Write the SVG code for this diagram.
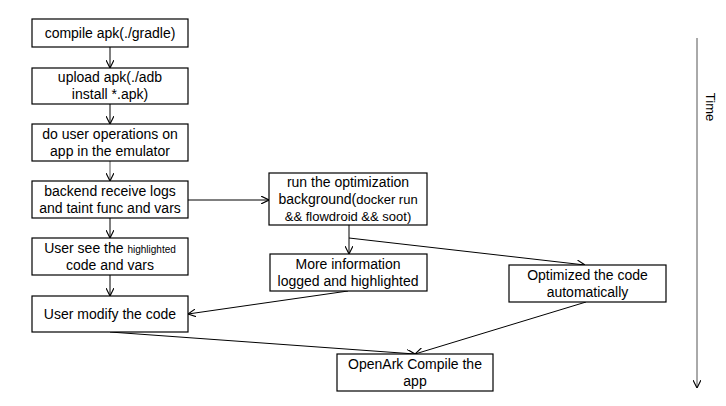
<svg xmlns="http://www.w3.org/2000/svg" width="726" height="406" viewBox="0 0 726 406">
<defs>
<style>
.box{fill:#fff;stroke:#000;stroke-width:1.2}
.t{font-family:"Liberation Sans",Arial,sans-serif;font-size:14px;fill:#000;text-anchor:middle}
.c{fill:none;stroke:#000;stroke-width:1}
.g{stroke:#555}
.s{font-size:10px}
.m{font-size:13px}
</style>
<marker id="ah" viewBox="0 0 10 10" refX="10" refY="5" markerWidth="8" markerHeight="8" markerUnits="userSpaceOnUse" orient="auto">
<path d="M0,0 L10,5 L0,10" fill="none" stroke="#000" stroke-width="1.4"/>
</marker>
</defs>
<rect width="726" height="406" fill="#fff"/>
<g id="connectors">
<line class="c" x1="110" y1="47" x2="110" y2="68" marker-end="url(#ah)"/>
<line class="c" x1="110" y1="104" x2="110" y2="124" marker-end="url(#ah)"/>
<line class="c g" x1="110" y1="161" x2="110" y2="181" marker-end="url(#ah)"/>
<line class="c" x1="110" y1="218" x2="110" y2="238" marker-end="url(#ah)"/>
<line class="c" x1="110" y1="275" x2="110" y2="296" marker-end="url(#ah)"/>
<line class="c" x1="188" y1="200" x2="269" y2="200" marker-end="url(#ah)"/>
<line class="c" x1="349" y1="225" x2="349" y2="254" marker-end="url(#ah)"/>
<line class="c" x1="349" y1="238" x2="585" y2="265" marker-end="url(#ah)"/>
<line class="c" x1="348" y1="291" x2="188" y2="314" marker-end="url(#ah)"/>
<line class="c" x1="586" y1="302" x2="415" y2="354" marker-end="url(#ah)"/>
<line class="c" x1="110" y1="332" x2="415" y2="354" marker-end="url(#ah)"/>
<line class="c g" x1="697" y1="38" x2="697" y2="388" marker-end="url(#ah)"/>
</g>
<g id="n1"><rect class="box" x="32" y="19" width="156" height="28"/><text class="t" x="110" y="38">compile apk(./gradle)</text></g>
<g id="n2"><rect class="box" x="32" y="68" width="156" height="36"/><text class="t" x="110" y="82">upload apk(./adb</text><text class="t" x="110" y="99">install *.apk)</text></g>
<g id="n3"><rect class="box" x="32" y="124" width="156" height="37"/><text class="t" x="110" y="139">do user operations on</text><text class="t" x="110" y="156">app in the emulator</text></g>
<g id="n4"><rect class="box" x="32" y="181" width="156" height="37"/><text class="t" x="110" y="196">backend receive logs</text><text class="t" x="110" y="213">and taint func and vars</text></g>
<g id="n5"><rect class="box" x="32" y="238" width="156" height="37"/><text class="t" x="110" y="253">User see the <tspan class="s">highlighted</tspan></text><text class="t" x="110" y="270">code and vars</text></g>
<g id="n6"><rect class="box" x="32" y="296" width="156" height="36"/><text class="t" x="110" y="319">User modify the code</text></g>
<g id="n7"><rect class="box" x="269" y="173" width="158" height="52"/><text class="t" x="348" y="187">run the optimization</text><text class="t" x="348" y="204">background(<tspan class="m">docker run</tspan></text><text class="t m" x="348" y="221">&amp;&amp; flowdroid &amp;&amp; soot)</text></g>
<g id="n8"><rect class="box" x="270" y="254" width="157" height="37"/><text class="t" x="348" y="269">More information</text><text class="t" x="348" y="286">logged and highlighted</text></g>
<g id="n9"><rect class="box" x="509" y="265" width="157" height="37"/><text class="t" x="587.5" y="280">Optimized the code</text><text class="t" x="587.5" y="297">automatically</text></g>
<g id="n10"><rect class="box" x="337" y="354" width="156" height="37"/><text class="t" x="415" y="369">OpenArk Compile the</text><text class="t" x="415" y="386">app</text></g>
<g id="time"><text class="t m" transform="translate(706,107) rotate(90)">Time</text></g>
</svg>
